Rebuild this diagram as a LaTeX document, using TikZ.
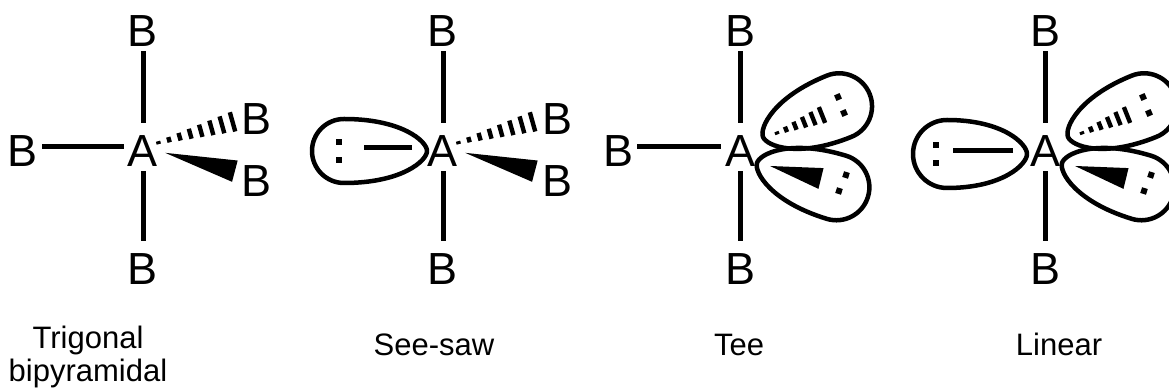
\documentclass[tikz,border=0pt]{standalone}
\usepackage{fontspec}
\setmainfont{Liberation Sans}
\usetikzlibrary{calc}
\usetikzlibrary{positioning}

\tikzset{
  atom/.style={font=\fontsize{45}{54}\selectfont, text height=40pt, text depth=0pt,
    inner xsep=4pt, inner ysep=4pt},
  bond/.style={line width=5pt},
  hashline/.style={line width=4.4pt},
  lobeline/.style={line width=4.5pt, line join=round},
  lpdot/.style={rectangle, fill, inner sep=0pt, minimum size=6pt},
  shapename/.style={font=\fontsize{31}{33}\selectfont, inner sep=0pt, align=center}
}

% hashed wedge: start, end, last index, end half-width
\newcommand{\hashwedge}[4]{%
  \coordinate (hq) at ($(#1)!2!(#2)$);
  \foreach \k in {0,...,#3}{
    \pgfmathsetmacro{\hw}{1.5+(#4-1.5)*\k/#3}
    \coordinate (hp) at ($(#1)!{\k/#3}!(#2)$);
    \draw[hashline] ($(hp)!\hw pt!90:(hq)$) -- ($(hp)!\hw pt!-90:(hq)$);
  }}

% solid wedge: tip, end, half-width
\newcommand{\solidwedge}[3]{%
  \fill (#1) -- ($(#2)!#3!90:(#1)$) -- ($(#2)!#3!-90:(#1)$) -- cycle;}

% lone pair lobe: tip, angle, centre distance, radius
\newcommand{\lobe}[4]{%
  \draw[lobeline, shift={#1}, rotate=#2] (0,0)
    .. controls (0,0.3*#4) and (0.3*#3,#4) .. (#3,#4)
    arc[start angle=90, end angle=-90, radius=#4]
    .. controls (0.3*#3,-#4) and (0,-0.3*#4) .. (0,0) -- cycle;}

\begin{document}
\begin{tikzpicture}[x=1pt, y=1pt]
  \useasboundingbox (0,0) rectangle (1169,390);

  % trigonal bipyramidal
  \begin{scope}[shift={(143,243)}]
    \node[atom] (A1) at (0,0) {A};
    \node[atom] (B1t) at (0,120) {B};
    \node[atom] (B1b) at (0,-118) {B};
    \node[atom] (B1l) at (-120,0) {B};
    \node[atom] (B1u) at (114,32) {B};
    \node[atom] (B1d) at (114,-30) {B};
    \draw[bond] (A1) -- (B1t);
    \draw[bond] (A1) -- (B1b);
    \draw[bond] (B1l) -- (A1);
    \coordinate (h1s) at ($(A1)!16pt!(B1u)$);
    \coordinate (h1e) at ($(A1)!93pt!(B1u)$);
    \hashwedge{h1s}{h1e}{7}{10}
    \coordinate (w1s) at ($(A1)!23pt!(B1d)$);
    \coordinate (w1e) at ($(A1)!95pt!(B1d)$);
    \solidwedge{w1s}{w1e}{11pt}
  \end{scope}

  % see-saw
  \begin{scope}[shift={(443,243)}]
    \lobe{(-16,-4)}{180}{83}{32}
    \node[atom] (A2) at (0,0) {A};
    \node[atom] (B2t) at (0,120) {B};
    \node[atom] (B2b) at (0,-118) {B};
    \node[atom] (B2u) at (114,32) {B};
    \node[atom] (B2d) at (114,-30) {B};
    \coordinate (e2) at (-31,-1);
    \coordinate (lp2) at (-79,-1);
    \draw[bond] (A2) -- (B2t);
    \draw[bond] (A2) -- (B2b);
    \draw[bond] (e2) -- (lp2);
    \node[lpdot] (d2a) at (-104,5) {};
    \node[lpdot] (d2b) at (-104,-13) {};
    \coordinate (h2s) at ($(A2)!16pt!(B2u)$);
    \coordinate (h2e) at ($(A2)!93pt!(B2u)$);
    \hashwedge{h2s}{h2e}{7}{10}
    \coordinate (w2s) at ($(A2)!23pt!(B2d)$);
    \coordinate (w2e) at ($(A2)!95pt!(B2d)$);
    \solidwedge{w2s}{w2e}{11pt}
  \end{scope}

  % tee
  \begin{scope}[shift={(740,243)}]
    \lobe{(23,10)}{22}{82}{33}
    \lobe{(17,-16)}{-17}{83}{33}
    \node[atom] (A3) at (0,0) {A};
    \node[atom] (B3t) at (0,120) {B};
    \node[atom] (B3b) at (0,-118) {B};
    \node[atom] (B3l) at (-122,0) {B};
    \draw[bond] (A3) -- (B3t);
    \draw[bond] (A3) -- (B3b);
    \draw[bond] (B3l) -- (A3);
    \coordinate (h3s) at (37,14);
    \coordinate (h3e) at (82,32);
    \hashwedge{h3s}{h3e}{5}{8.5}
    \coordinate (w3s) at (30,-19);
    \coordinate (w3e) at (81,-31.5);
    \solidwedge{w3s}{w3e}{10.7pt}
    \node[lpdot, rotate=24] (d3a) at (98,50) {};
    \node[lpdot, rotate=24] (d3b) at (104,34) {};
    \node[lpdot, rotate=-18] (d3c) at (106,-28) {};
    \node[lpdot, rotate=-18] (d3d) at (99,-44) {};
  \end{scope}

  % linear
  \begin{scope}[shift={(1045,243)}]
    \lobe{(-18,-7)}{180}{80}{34}
    \lobe{(23,10)}{22}{82}{33}
    \lobe{(17,-16)}{-17}{83}{33}
    \node[atom] (A4) at (0,0) {A};
    \node[atom] (B4t) at (0,120) {B};
    \node[atom] (B4b) at (0,-118) {B};
    \coordinate (e4) at (-32,-4);
    \coordinate (lp4) at (-92,-4);
    \draw[bond] (A4) -- (B4t);
    \draw[bond] (A4) -- (B4b);
    \draw[bond] (e4) -- (lp4);
    \node[lpdot] (d4a) at (-109,2) {};
    \node[lpdot] (d4b) at (-109,-16) {};
    \coordinate (h4s) at (37,14);
    \coordinate (h4e) at (82,32);
    \hashwedge{h4s}{h4e}{5}{8.5}
    \coordinate (w4s) at (30,-19);
    \coordinate (w4e) at (81,-31.5);
    \solidwedge{w4s}{w4e}{10.7pt}
    \node[lpdot, rotate=24] (d4c) at (98,50) {};
    \node[lpdot, rotate=24] (d4d) at (104,34) {};
    \node[lpdot, rotate=-18] (d4e) at (106,-28) {};
    \node[lpdot, rotate=-18] (d4f) at (99,-44) {};
  \end{scope}

  % names
  \node[shapename, anchor=north] (n1) at (88,64) {Trigonal\\bipyramidal};
  \node[shapename, anchor=base] (n2) at (434,34) {See-saw};
  \node[shapename, anchor=base] (n3) at (739,34) {Tee};
  \node[shapename, anchor=base] (n4) at (1059,34) {Linear};
\end{tikzpicture}
\end{document}
